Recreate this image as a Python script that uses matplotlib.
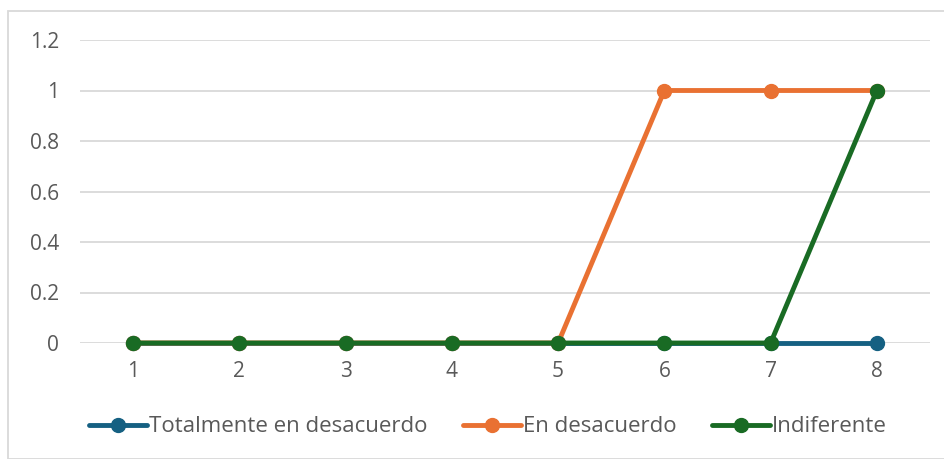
#!/usr/bin/env python3

import matplotlib
matplotlib.use("Agg")
import matplotlib.pyplot as plt
from matplotlib.patches import Rectangle

# Data
categories = ["1", "2", "3", "4", "5", "6", "7", "8"]
totalmente = [0, 0, 0, 0, 0, 0, 0, 0]
desacuerdo = [0, 0, 0, 0, 0, 1, 1, 1]
indiferente = [0, 0, 0, 0, 0, 0, 0, 1]

series = [
    ("Totalmente en desacuerdo", totalmente, "#156082"),
    ("En desacuerdo", desacuerdo, "#E97132"),
    ("Indiferente", indiferente, "#196B24"),
]

text_color = "#595959"
plt.rcParams["font.family"] = ["Open Sans", "DejaVu Sans"]

fig = plt.figure(figsize=(9.45, 4.59), dpi=100)
ax = fig.add_axes([80 / 945, (459 - 343) / 459, 850 / 945, 303 / 459])

x = list(range(len(categories)))
for name, vals, color in series:
    ax.plot(x, vals, "-o", color=color, lw=3.5, ms=10, label=name,
            solid_capstyle="round", zorder=3, clip_on=False)

ax.set_xlim(-0.5, len(categories) - 0.5)
ax.set_ylim(0, 1.2)
ax.set_yticks([0, 0.2, 0.4, 0.6, 0.8, 1.0, 1.2])
ax.set_yticklabels(["0", "0.2", "0.4", "0.6", "0.8", "1", "1.2"])
ax.set_xticks(x)
ax.set_xticklabels(categories)
ax.grid(axis="y", color="#D9D9D9", lw=1.3)
ax.set_axisbelow(True)
for s in ax.spines.values():
    s.set_visible(False)
ax.tick_params(length=0, labelsize=15, colors=text_color)
ax.tick_params(axis="y", pad=15)
ax.tick_params(axis="x", pad=13)

leg = ax.legend(loc="center", bbox_to_anchor=(488 / 945, (459 - 427) / 459),
                bbox_transform=fig.transFigure, ncol=3, frameon=False,
                fontsize=16, handlelength=2.6, handletextpad=0.1,
                columnspacing=1.6)
for t in leg.get_texts():
    t.set_color(text_color)

# Light border around the chart area
fig.patches.append(Rectangle((8 / 945, 0), 1, (459 - 11) / 459,
                             transform=fig.transFigure, fill=False,
                             edgecolor="#D9D9D9", lw=1.3))

plt.savefig("out.png", dpi=100)
